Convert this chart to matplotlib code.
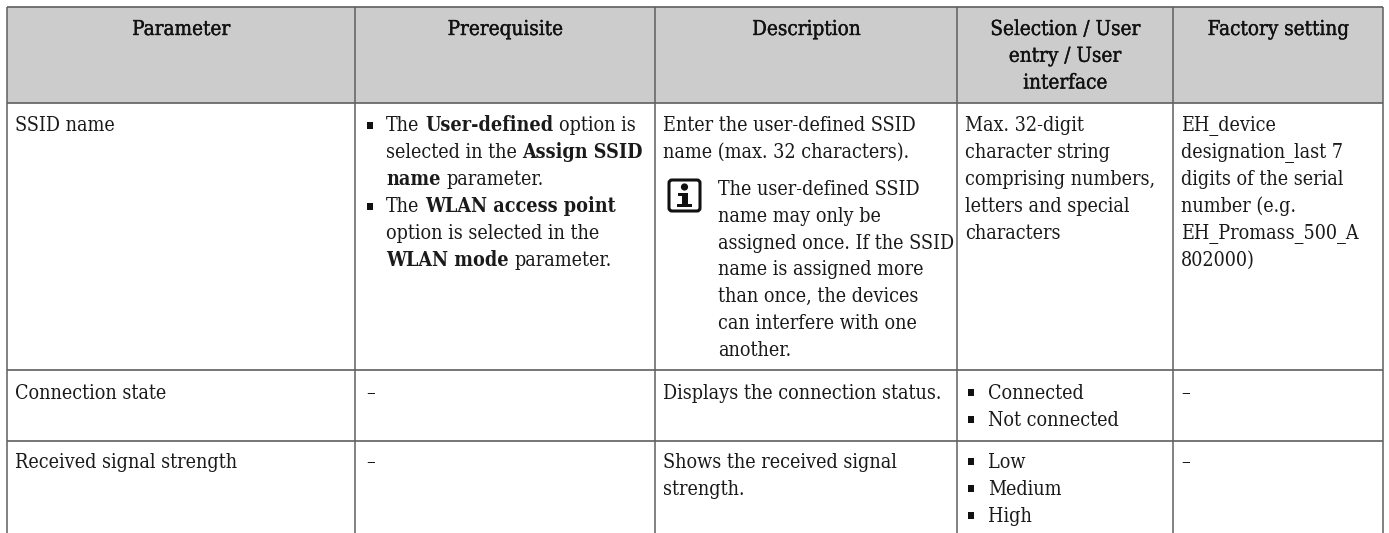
import matplotlib
matplotlib.use("Agg")
import matplotlib.pyplot as plt
import matplotlib.patheffects as pe
from matplotlib.patches import Rectangle, FancyBboxPatch, Circle

W, H = 1389, 533
FONT = "DejaVu Serif"
FS = 14.1
HFS = 14.8
STRETCH = "condensed"

columns = ["Parameter", "Prerequisite", "Description", "Selection / User\nentry / User\ninterface", "Factory setting"]
col_edges = [7, 355, 655, 957, 1173, 1383]
row_edges = [7, 103, 370, 441, 533]

# (x, baseline y, [(text, bold), ...])
body_runs = [
    (15, 131, [("SSID name", 0)]),
    (386, 131, [("The ", 0), ("User-defined", 1), (" option is", 0)]),
    (386, 158, [("selected in the ", 0), ("Assign SSID", 1)]),
    (386, 185, [("name", 1), (" parameter.", 0)]),
    (386, 212, [("The ", 0), ("WLAN access point", 1)]),
    (386, 239, [("option is selected in the", 0)]),
    (386, 266, [("WLAN mode", 1), (" parameter.", 0)]),
    (663, 131, [("Enter the user-defined SSID", 0)]),
    (663, 158, [("name (max. 32 characters).", 0)]),
    (718, 195, [("The user-defined SSID", 0)]),
    (718, 222, [("name may only be", 0)]),
    (718, 249, [("assigned once. If the SSID", 0)]),
    (718, 275, [("name is assigned more", 0)]),
    (718, 302, [("than once, the devices", 0)]),
    (718, 329, [("can interfere with one", 0)]),
    (718, 356, [("another.", 0)]),
    (965, 131, [("Max. 32-digit", 0)]),
    (965, 158, [("character string", 0)]),
    (965, 185, [("comprising numbers,", 0)]),
    (965, 212, [("letters and special", 0)]),
    (965, 239, [("characters", 0)]),
    (1181, 131, [("EH_device", 0)]),
    (1181, 158, [("designation_last 7", 0)]),
    (1181, 185, [("digits of the serial", 0)]),
    (1181, 212, [("number (e.g.", 0)]),
    (1181, 239, [("EH_Promass_500_A", 0)]),
    (1181, 266, [("802000)", 0)]),
    (15, 399, [("Connection state", 0)]),
    (366, 399, [("–", 0)]),
    (663, 399, [("Displays the connection status.", 0)]),
    (988, 399, [("Connected", 0)]),
    (988, 426, [("Not connected", 0)]),
    (1181, 399, [("–", 0)]),
    (15, 468, [("Received signal strength", 0)]),
    (366, 468, [("–", 0)]),
    (663, 468, [("Shows the received signal", 0)]),
    (663, 495, [("strength.", 0)]),
    (988, 468, [("Low", 0)]),
    (988, 495, [("Medium", 0)]),
    (988, 522, [("High", 0)]),
    (1181, 468, [("–", 0)]),
]
bullets = [(370, 125), (370, 206), (971, 392), (971, 419), (971, 461), (971, 488), (971, 515)]

fig = plt.figure(figsize=(W / 100, H / 100), dpi=100)
ax = fig.add_axes([0, 0, 1, 1])
ax.set_xlim(0, W)
ax.set_ylim(H, 0)
ax.axis("off")

ax.add_patch(Rectangle((col_edges[0], row_edges[0]), col_edges[-1] - col_edges[0], row_edges[1] - row_edges[0],
                       facecolor="#cccccc", edgecolor="none", zorder=0))
for x in col_edges:
    ax.plot([x, x], [row_edges[0], H], color="#5f5f5f", lw=1.1, zorder=1, solid_capstyle="butt")
for y in row_edges[:-1]:
    ax.plot([col_edges[0], col_edges[-1]], [y, y], color="#5f5f5f", lw=1.2, zorder=1, solid_capstyle="butt")

for i, name in enumerate(columns):
    cx = (col_edges[i] + col_edges[i + 1]) / 2
    for j, line in enumerate(name.split("\n")):
        ax.text(cx, 35 + j * 26.8, line, ha="center", va="baseline", family=FONT, fontsize=HFS,
                stretch=STRETCH, color="#111111",
                path_effects=[pe.withStroke(linewidth=0.25, foreground="#111111")])

fig.canvas.draw()
rend = fig.canvas.get_renderer()


def advance(s, bold):
    w = "bold" if bold else "normal"
    a = ax.text(0, 0, "|" + s + "|", family=FONT, fontsize=FS, weight=w, stretch=STRETCH)
    b = ax.text(0, 0, "||", family=FONT, fontsize=FS, weight=w, stretch=STRETCH)
    d = a.get_window_extent(rend).width - b.get_window_extent(rend).width
    a.remove()
    b.remove()
    return d


for x, y, runs in body_runs:
    px = x
    for s, b in runs:
        ax.text(px + (len(s) - len(s.lstrip())) * advance(" ", b), y, s.strip(), ha="left", va="baseline",
                family=FONT, fontsize=FS, weight="bold" if b else "normal", stretch=STRETCH, color="#1a1a1a")
        px += advance(s, b)

for bx, by in bullets:
    ax.add_patch(Rectangle((bx - 3, by - 3.5), 6, 7, facecolor="#111111", edgecolor="none"))

# information icon
ax.add_patch(FancyBboxPatch((669, 180), 31, 31, boxstyle="round,pad=0,rounding_size=3",
                            facecolor="none", edgecolor="#111111", lw=2.2))
ax.add_patch(Circle((684.5, 187), 3.6, facecolor="#111111", edgecolor="none"))
ax.add_patch(Rectangle((681.5, 193), 6.5, 12, facecolor="#111111", edgecolor="none"))
ax.add_patch(Rectangle((678, 193), 5, 2.6, facecolor="#111111", edgecolor="none"))
ax.add_patch(Rectangle((677, 204), 15, 3, facecolor="#111111", edgecolor="none"))

fig.savefig("out.png", dpi=100)
